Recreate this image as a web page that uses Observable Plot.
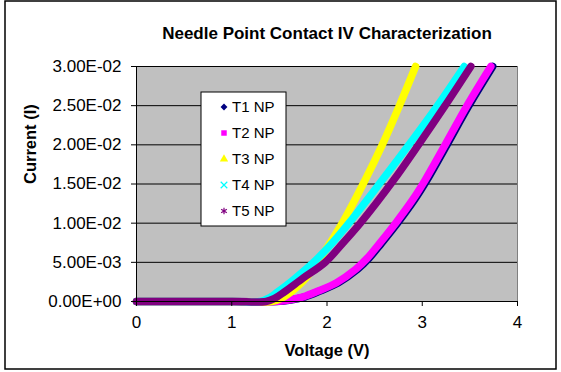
<!DOCTYPE html>
<html><head><meta charset="utf-8">
<script src="https://cdn.jsdelivr.net/npm/d3@7"></script>
<script src="https://cdn.jsdelivr.net/npm/@observablehq/plot@0.6"></script>
<style>body{margin:0;background:#fff} #chart svg{font-family:Arial,"Liberation Sans",sans-serif;display:block}</style>
</head><body><div id="chart"></div>
<script>
const title = "Needle Point Contact IV Characterization";
const xLabel = "Voltage (V)";
const yLabel = "Current (I)";
const seriesNames = ["T1 NP", "T2 NP", "T3 NP", "T4 NP", "T5 NP"];
const seriesColors = ["#000080", "#FF00FF", "#FFFF00", "#00FFFF", "#800080"];
const seriesSymbols = ["diamond2", "square", "triangle", "times", "asterisk"];

const t1V = [0, 1.0, 1.47, 1.62, 1.77, 1.92, 2.12, 2.32, 2.44, 2.57, 2.74, 2.92, 3.05, 3.26, 3.49, 3.74];
const t1I = [0, 0, 0, 0.0002, 0.0006, 0.0013, 0.0024, 0.0041, 0.0055, 0.0074, 0.01, 0.013, 0.0155, 0.02, 0.025, 0.03];
const t2V = [0, 1.0, 1.45, 1.6, 1.75, 1.9, 2.1, 2.3, 2.42, 2.55, 2.72, 2.9, 3.03, 3.24, 3.47, 3.72];
const t2I = [0, 0, 0, 0.0002, 0.0006, 0.0013, 0.0024, 0.0041, 0.0055, 0.0074, 0.01, 0.013, 0.0155, 0.02, 0.025, 0.03];
const t3V = [0, 1.0, 1.42, 1.52, 1.65, 1.78, 1.9, 2.16, 2.40, 2.58, 2.76, 2.93];
const t3I = [0, 0, 0, 0.0004, 0.0015, 0.003, 0.005, 0.01, 0.0155, 0.02, 0.025, 0.03];
const t4V = [0, 1.0, 1.3, 1.4, 1.48, 1.65, 1.86, 2.05, 2.23, 2.58, 2.86, 3.16, 3.44];
const t4I = [0, 0, 0, 0.0005, 0.0012, 0.0028, 0.005, 0.0074, 0.01, 0.0155, 0.02, 0.025, 0.03];
const t5V = [0, 1.0, 1.36, 1.45, 1.55, 1.75, 1.98, 2.17, 2.35, 2.70, 2.96, 3.24, 3.51];
const t5I = [0, 0, 0, 0.0004, 0.0012, 0.003, 0.005, 0.0075, 0.01, 0.0155, 0.02, 0.025, 0.03];

const xTicks = [0, 1, 2, 3, 4];
const yTicks = [0, 0.005, 0.01, 0.015, 0.02, 0.025, 0.03];
const yTickLabels = ["0.00E+00", "5.00E-03", "1.00E-02", "1.50E-02", "2.00E-02", "2.50E-02", "3.00E-02"];

const allV = [t1V, t2V, t3V, t4V, t5V];
const allI = [t1I, t2I, t3I, t4I, t5I];
const rows = [];
seriesNames.forEach((s, k) => allV[k].forEach((v, i) => rows.push({series: s, V: v, I: allI[k][i]})));

const plot = Plot.plot({
  width: 561, height: 372,
  marginLeft: 136, marginRight: 44, marginTop: 66, marginBottom: 71,
  style: {fontFamily: "Arial, 'Liberation Sans', sans-serif", fontSize: "17px", background: "white", color: "black"},
  x: {domain: [0, 4]},
  y: {domain: [0, 0.03]},
  color: {domain: seriesNames, range: seriesColors},
  marks: [
    Plot.frame({fill: "#C0C0C0", stroke: "#808080"}),
    Plot.gridY(yTicks, {stroke: "black", strokeOpacity: 1, strokeWidth: 1}),
    Plot.line(rows, {x: "V", y: "I", z: "series", stroke: "series", strokeWidth: 7.5, curve: "catmull-rom", strokeLinecap: "round"}),
    Plot.ruleX([0], {stroke: "black"}),
    Plot.ruleY([0], {stroke: "black"}),
    Plot.axisX(xTicks, {tickSize: 5, tickPadding: 9, label: null, fontSize: 17}),
    Plot.axisY(yTicks, {tickSize: 5, tickPadding: 10, label: null, fontSize: 17, tickFormat: d => yTickLabels[yTicks.indexOf(d)]}),
    Plot.text([title], {frameAnchor: "top", dy: -33, lineAnchor: "middle", text: d => d, fontWeight: "bold", fontSize: 17}),
    Plot.text([xLabel], {frameAnchor: "bottom", dy: 49, lineAnchor: "middle", text: d => d, fontWeight: "bold", fontSize: 16.5}),
    Plot.text([yLabel], {frameAnchor: "left", dx: -106, lineAnchor: "middle", text: d => d, fontWeight: "bold", fontSize: 16.5, rotate: -90})
  ]
});
document.getElementById("chart").appendChild(plot);

const svg = d3.select(plot);
svg.append("rect").attr("x", 5).attr("y", 1).attr("width", 551).attr("height", 368)
  .attr("fill", "none").attr("stroke", "black").attr("stroke-width", 1.5);

const lg = svg.append("g").attr("text-anchor", "start");
lg.append("rect").attr("x", 201).attr("y", 92).attr("width", 85).attr("height", 134)
  .attr("fill", "white").attr("stroke", "black").attr("stroke-width", 1);
const symMap = {diamond2: d3.symbolDiamond2, square: d3.symbolSquare, triangle: d3.symbolTriangle, times: d3.symbolTimes, asterisk: d3.symbolAsterisk};
seriesNames.forEach((s, k) => {
  const cy = 107 + k * 26;
  const isStroke = seriesSymbols[k] === "times" || seriesSymbols[k] === "asterisk";
  lg.append("path").attr("d", d3.symbol(symMap[seriesSymbols[k]], 30)())
    .attr("transform", `translate(224,${cy})`)
    .attr("fill", isStroke ? "none" : seriesColors[k])
    .attr("stroke", isStroke ? seriesColors[k] : "none").attr("stroke-width", 1.2);
  lg.append("text").attr("x", 232).attr("y", cy).attr("dy", "0.35em")
    .attr("text-anchor", "start").attr("font-size", 15).attr("fill", "black").text(s);
});
</script>
</body></html>
